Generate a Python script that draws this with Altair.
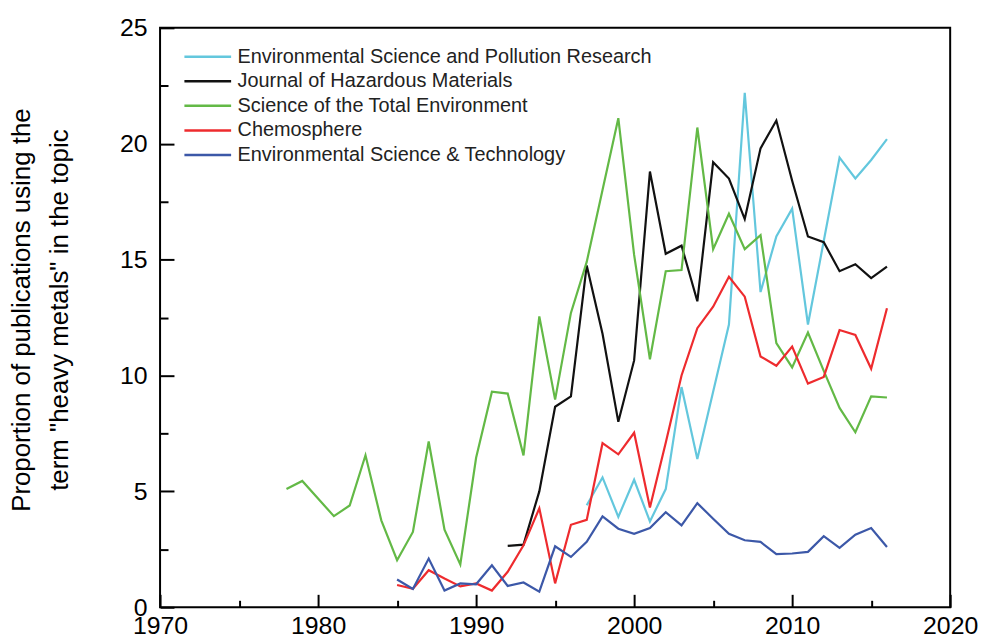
import altair as alt
import pandas as pd

# ---------------- data ----------------
series_names = [
    "Environmental Science and Pollution Research",
    "Journal of Hazardous Materials",
    "Science of the Total Environment",
    "Chemosphere",
    "Environmental Science & Technology",
]
series_colors = ["#63c7dd", "#111111", "#63b946", "#ee2b2e", "#3c58a8"]

espr_years = list(range(1997, 2017))
espr_values = [4.4, 5.6, 3.9, 5.5, 3.7, 5.1, 9.5, 6.4, 9.3, 12.2,
               22.2, 13.6, 16.0, 17.2, 12.2, 15.8, 19.4, 18.5, 19.3, 20.2]

jhm_years = list(range(1992, 2017))
jhm_values = [2.65, 2.7, 5.0, 8.65, 9.1, 14.75, 11.8, 8.0, 10.65, 18.8,
              15.25, 15.6, 13.2, 19.2, 18.5, 16.75, 19.8, 21.0, 18.4, 16.0,
              15.75, 14.5, 14.8, 14.2, 14.7]

stoten_years = [1978, 1979] + list(range(1981, 2017))
stoten_values = [5.1, 5.45, 3.93, 4.39, 6.56, 3.75, 2.03, 3.25, 7.15, 3.35,
                 1.85, 6.45, 9.3, 9.22, 6.55, 12.55, 8.96, 12.7, 14.9, 18.0,
                 21.1, 15.2, 10.7, 14.5, 14.55, 20.7, 15.45, 16.98, 15.45, 16.05,
                 11.4, 10.35, 11.85, 10.2, 8.6, 7.55, 9.1, 9.05]

chemo_years = list(range(1985, 2017))
chemo_values = [0.96, 0.8, 1.6, 1.24, 0.9, 1.03, 0.72, 1.53, 2.67, 4.27,
                1.03, 3.56, 3.77, 7.08, 6.6, 7.53, 4.3, 7.1, 10.0, 12.04,
                12.97, 14.26, 13.4, 10.82, 10.42, 11.25, 9.65, 9.94, 11.96, 11.75,
                10.29, 12.9]

est_years = list(range(1985, 2017))
est_values = [1.2, 0.79, 2.1, 0.72, 1.03, 0.99, 1.81, 0.92, 1.07, 0.67,
              2.63, 2.17, 2.82, 3.92, 3.39, 3.17, 3.42, 4.1, 3.53, 4.49,
              3.82, 3.17, 2.89, 2.82, 2.29, 2.32, 2.39, 3.07, 2.56, 3.13,
              3.42, 2.6]

x_major = [1970, 1980, 1990, 2000, 2010, 2020]
x_minor = [1975, 1985, 1995, 2005, 2015]
y_major = [0, 5, 10, 15, 20, 25]
y_minor = [2.5, 7.5, 12.5, 17.5, 22.5]

y_title = ["Proportion of publications using the", 'term "heavy metals" in the topic']

all_years = [espr_years, jhm_years, stoten_years, chemo_years, est_years]
all_values = [espr_values, jhm_values, stoten_values, chemo_values, est_values]

rows = []
for name, yrs, vals in zip(series_names, all_years, all_values):
    for yr, v in zip(yrs, vals):
        rows.append({"journal": name, "year": yr, "value": v})
df = pd.DataFrame(rows)

# ---------------- chart ----------------
FONT = "Liberation Sans"
W, H = 795, 583

x_scale = alt.Scale(domain=[1970, 2020], nice=False, zero=False)
y_scale = alt.Scale(domain=[0, 25], nice=False, zero=True)

lines = alt.Chart(df).mark_line(strokeWidth=2.2, strokeJoin="miter").encode(
    x=alt.X(
        "year:Q", scale=x_scale,
        axis=alt.Axis(
            orient="bottom", values=x_major, format="d", title=None,
            tickSize=13, offset=-13, tickWidth=2, tickColor="black",
            domain=False, grid=False, labelPadding=6,
            labelFont=FONT, labelFontSize=25, labelColor="black",
            labelFlush=False, labelOverlap=False, labelBound=False,
        ),
    ),
    y=alt.Y(
        "value:Q", scale=y_scale,
        axis=alt.Axis(
            orient="left", values=y_major, format="d", title=y_title,
            tickSize=14, offset=-14, tickWidth=2, tickColor="black",
            domain=False, grid=False, labelPadding=13,
            labelFont=FONT, labelFontSize=25, labelColor="black",
            labelFlush=False, labelOverlap=False,
            titleFont=FONT, titleFontSize=26, titleFontWeight="normal",
            titleColor="black", titleAngle=270, titleAlign="center",
            titleBaseline="bottom", titleX=-140, titleY=H / 2 - 8,
            titleLineHeight=38,
        ),
    ),
    color=alt.Color(
        "journal:N",
        scale=alt.Scale(domain=series_names, range=series_colors),
        legend=alt.Legend(
            orient="none", legendX=23, legendY=18, title=None,
            symbolType="stroke", symbolSize=2209, symbolStrokeWidth=2.5,
            labelFont=FONT, labelFontSize=20, labelColor="#222222",
            clipHeight=22, rowPadding=2.75, labelOffset=5, padding=0,
            labelLimit=600,
        ),
    ),
)

minor = alt.Chart(df).mark_point(opacity=0).encode(
    x=alt.X(
        "year:Q", scale=x_scale,
        axis=alt.Axis(
            orient="bottom", values=x_minor, title=None, labels=False,
            tickSize=7, offset=-7, tickWidth=2, tickColor="black",
            domain=False, grid=False,
        ),
    ),
    y=alt.Y(
        "value:Q", scale=y_scale,
        axis=alt.Axis(
            orient="left", values=y_minor, title=None, labels=False,
            tickSize=8, offset=-8, tickWidth=2, tickColor="black",
            domain=False, grid=False,
        ),
    ),
)

chart = alt.layer(lines, minor).resolve_axis(x="independent", y="independent").properties(
    width=W, height=H,
    autosize=alt.AutoSizeParams(type="none"),
    padding={"left": 153, "top": 18, "right": 28, "bottom": 34},
).configure_view(stroke="black", strokeWidth=2)

chart.save("out.html", embed_options={"renderer": "svg", "actions": False})
